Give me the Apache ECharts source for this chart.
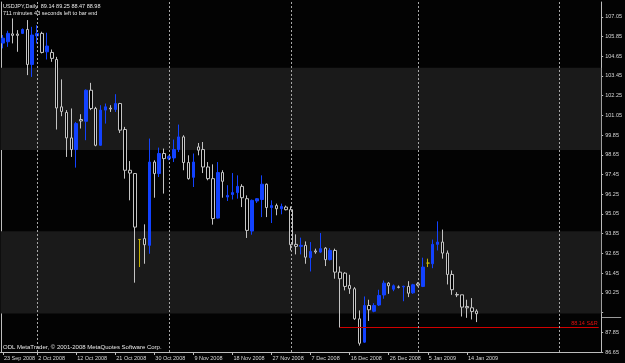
<!DOCTYPE html>
<html><head><meta charset="utf-8">
<script src="https://cdn.jsdelivr.net/npm/echarts@6/dist/echarts.min.js"></script>
<style>html,body{margin:0;padding:0;background:#030303;}#c{width:625px;height:363px;}</style>
</head><body><div id="c"></div>
<script>
// ---- data ----
const open  = [105.45,105.53,106.01,106.00,106.04,106.28,104.15,105.89,106.04,104.92,104.88,
  104.45,101.57,101.23,99.68,98.97,100.80,100.69,102.58,101.47,99.23,101.37,101.49,101.41,101.77,
  100.19,97.71,97.51,93.50,93.55,93.14,98.21,97.51,98.73,98.42,98.46,98.97,99.74,98.18,97.28,
  99.13,98.97,97.91,97.20,94.80,97.57,96.08,96.23,96.35,96.73,95.98,94.01,95.84,95.93,96.86,
  95.44,95.56,95.37,95.47,95.31,93.20,93.08,93.14,92.39,92.80,92.73,92.97,92.27,92.83,91.51,
  91.45,90.70,90.50,88.67,87.25,89.48,89.13,89.51,90.12,90.84,90.47,90.61,90.61,90.64,90.25,
  90.80,90.64,92.06,92.02,93.20,93.34,92.67,91.37,90.15,90.13,89.42,89.34,89.14];
const high  = [105.94,106.20,106.95,106.24,106.34,106.85,106.44,106.54,106.14,106.08,105.06,
  104.61,103.24,101.37,101.47,100.65,101.12,102.63,103.03,101.57,101.67,101.77,101.67,102.34,101.81,
  100.35,98.27,97.54,93.50,94.42,99.64,98.32,99.09,99.03,98.62,99.58,100.49,99.84,98.62,98.73,
  99.37,99.43,98.21,98.07,98.21,97.71,96.80,97.54,97.40,96.86,96.18,95.93,96.02,97.40,96.90,
  95.88,95.68,95.68,95.56,95.51,93.81,93.61,93.38,93.34,92.94,93.89,93.03,92.97,92.94,91.86,
  91.51,91.35,90.60,89.18,90.03,89.83,89.62,90.44,91.00,90.90,90.76,90.70,90.68,90.96,90.80,
  90.90,92.39,92.33,93.49,94.60,94.10,92.83,91.61,90.29,90.13,89.83,89.93,89.25];
const low   = [105.13,105.22,105.43,104.92,106.00,103.50,103.39,105.43,104.82,104.45,104.31,
  100.19,101.00,98.52,98.52,97.87,100.25,99.54,101.37,99.17,99.20,100.55,101.26,101.26,99.98,
  97.20,95.88,90.87,91.82,92.02,92.63,96.04,97.30,96.29,98.32,98.21,98.82,97.71,97.14,96.69,
  98.62,97.54,97.10,94.40,94.77,96.04,95.84,95.93,95.98,95.47,93.59,93.79,95.72,94.86,94.86,
  94.50,94.97,95.03,95.27,92.83,92.59,92.59,92.02,91.55,92.63,92.67,91.88,92.22,91.11,88.14,
  90.40,90.19,88.61,87.04,87.21,88.54,89.07,89.45,89.89,90.19,90.35,90.52,89.74,89.99,90.19,
  90.64,90.60,91.82,91.75,92.83,92.33,90.76,90.13,89.99,88.81,88.73,88.63,88.47];
const close = [105.75,106.04,105.92,105.92,106.28,104.15,105.94,106.04,104.88,105.27,104.52,
  101.50,101.29,99.68,98.97,100.55,100.71,102.58,101.47,99.23,101.37,101.57,101.44,101.77,100.15,
  97.71,97.54,94.25,93.50,93.18,98.21,97.51,98.73,98.42,98.54,98.97,99.74,98.18,97.20,98.21,
  98.93,97.91,97.20,94.77,97.57,97.04,96.18,96.35,96.73,96.04,94.05,95.88,95.98,96.86,95.44,
  95.56,95.37,95.51,95.31,93.18,93.08,93.14,92.42,92.77,92.74,92.94,92.27,92.83,91.51,91.11,
  90.64,90.50,88.67,87.18,89.48,89.22,89.48,90.09,90.84,90.68,90.68,90.58,90.65,90.23,90.74,
  90.72,91.82,92.06,93.20,93.34,92.67,91.37,90.44,90.12,89.38,89.34,89.12,88.98];
const dojiIdx = [28, 87];
const yTicks = [86.65,87.85,89.05,90.25,91.45,92.65,93.85,95.05,96.25,97.45,98.65,99.85,
  101.05,102.25,103.45,104.65,105.85,107.05];
const hiddenTickLabels = [89.05];
const labelIndex = [0,7,15,23,31,39,47,55,63,71,79,87,95];
const labelText = ['23 Sep 2008','2 Oct 2008','12 Oct 2008','21 Oct 2008','30 Oct 2008','9 Nov 2008',
  '18 Nov 2008','27 Nov 2008','7 Dec 2008','16 Dec 2008','26 Dec 2008','5 Jan 2009','14 Jan 2009'];
const separatorIdx = [7, 34, 59, 85, 114];
const bands = [[103.95, 98.95], [94.0, 89.0]];
const srLevel = 88.14, srStart = 69, srLabel = '88.14 S&R';
const bidMarker = 88.80;
const slotCount = 123;
const categories = [];
for (let i = 0; i < slotCount; i++) categories.push(String(i));

// ---- chart ----
const FONT = '"Liberation Sans", Arial, sans-serif';
const FG = '#d8d8d8', AX = '#bdbdbd';
const BULL = '#1242ff', BEAR = '#c4c4c4', DOJI = '#c8b400';
const chart = echarts.init(document.getElementById('c'), null, {renderer: 'canvas'});

const candleData = open.map((o, i) => {
  const it = {value: [o, close[i], low[i], high[i]]};
  if (dojiIdx.includes(i)) it.itemStyle = {color: DOJI, color0: DOJI, borderColor: DOJI, borderColor0: DOJI};
  return it;
});
const isLab = (i) => labelIndex.includes(i);
const yLabelValues = yTicks.filter(v => !hiddenTickLabels.includes(v));

const texts = [
  {type: 'text', left: 3, top: 3, style: {text: 'USDJPY,Daily  89.14 89.25 88.47 88.98', fill: '#e8e8e8', font: '5.5px ' + FONT}},
  {type: 'text', left: 3, top: 10, style: {text: '711 minutes 43 seconds left to bar end', fill: '#e8e8e8', font: '5.5px ' + FONT}},
  {type: 'text', left: 3, top: 344, style: {text: 'ODL MetaTrader, \u00a9 2001-2008 MetaQuotes Software Corp.', fill: '#e8e8e8', font: '6px ' + FONT}}
];

chart.setOption({
  backgroundColor: '#030303',
  animation: false,
  grid: {left: 0.5, right: 23, top: 2, bottom: 11},
  xAxis: {
    type: 'category', data: categories, boundaryGap: true,
    axisLine: {show: true, lineStyle: {color: AX, width: 1}},
    axisTick: {show: true, alignWithLabel: true, interval: isLab, length: 3, lineStyle: {color: AX}},
    axisLabel: {interval: isLab, formatter: (v, i) => { const j = labelIndex.indexOf(i); return j >= 0 ? labelText[j] : ''; },
      align: 'left', margin: 3, color: FG, fontSize: 5.5, fontFamily: FONT, padding: [0, 0, 0, 1]},
    splitLine: {show: false}
  },
  yAxis: [{
    type: 'value', position: 'right', min: 86.65, max: 107.95,
    axisLine: {show: true, lineStyle: {color: AX}},
    axisTick: {show: true, length: 2, customValues: yTicks, lineStyle: {color: AX}},
    axisLabel: {customValues: yLabelValues, formatter: v => v.toFixed(2), color: FG, fontSize: 5.5, fontFamily: FONT, margin: 4},
    splitLine: {show: false}
  }, {
    type: 'value', position: 'left', min: 86.65, max: 107.95, offset: -1,
    axisLine: {show: true, lineStyle: {color: AX}},
    axisTick: {show: false}, axisLabel: {show: false}, splitLine: {show: false}
  }],
  series: [{
    type: 'line', data: [], z: 1, silent: true,
    markArea: {silent: true, itemStyle: {color: '#1a1a1a'},
      data: bands.map(b => [{yAxis: b[0]}, {yAxis: b[1]}])}
  }, {
    type: 'line', data: [], z: 4, silent: true,
    markLine: {
      silent: true, symbol: 'none', animation: false,
      lineStyle: {color: '#d00000', type: 'solid', width: 1.2, opacity: 1},
      label: {show: true, position: 'insideEndTop', formatter: srLabel, color: '#e01010', fontSize: 5.5, fontFamily: FONT, distance: 1},
      data: [[{coord: [String(srStart), srLevel]}, {coord: [String(slotCount - 1), srLevel]}]]
    }
  }, {
    type: 'candlestick', z: 3, barWidth: 3, data: candleData,
    itemStyle: {color: BULL, color0: '#000000', borderColor: BULL, borderColor0: BEAR, borderWidth: 1},
    markLine: {
      silent: true, symbol: 'none', animation: false,
      lineStyle: {color: '#a8a8a8', type: [2, 2], width: 1},
      label: {show: false},
      data: separatorIdx.map(k => ({xAxis: String(k)}))
    }
  }],
  graphic: texts
});

// short grey bid marker on the price scale
const by = Math.round(chart.convertToPixel({yAxisIndex: 0}, bidMarker)) + 0.5;
const gx = chart.convertToPixel({xAxisIndex: 0}, String(slotCount - 1)) + 2.5;
chart.setOption({graphic: texts.concat([
  {type: 'line', silent: true, shape: {x1: gx, y1: by, x2: gx + 20, y2: by}, style: {stroke: '#9a9a9a', lineWidth: 1}}
])}, {replaceMerge: ['graphic']});
</script>
</body></html>
